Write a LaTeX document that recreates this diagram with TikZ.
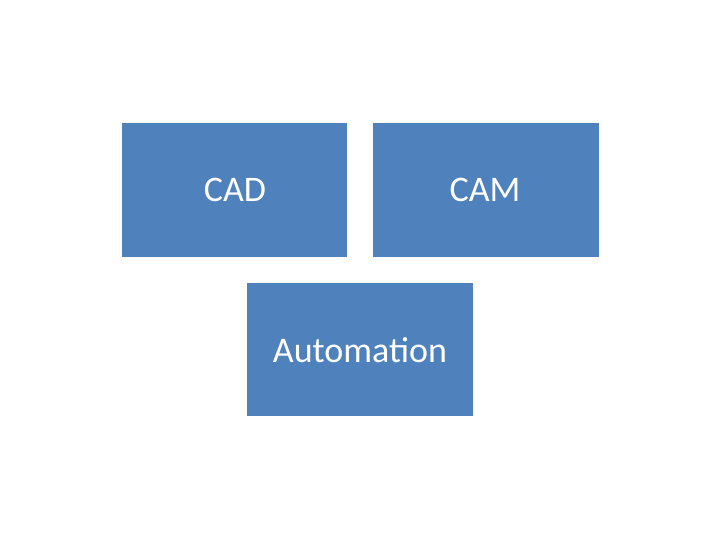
\documentclass[tikz,border=0pt]{standalone}
\usepackage{fontspec}
\setmainfont{Carlito}
\definecolor{boxblue}{HTML}{4F81BD}
\begin{document}
\begin{tikzpicture}[x=1pt,y=-1pt,
  blk/.style={fill=boxblue,draw=none,text=white,font=\fontsize{36}{40}\selectfont}]
\useasboundingbox (0,0) rectangle (720,540);
\fill[boxblue] (122,123) rectangle (347,257);
\fill[boxblue] (373,123) rectangle (599,257);
\fill[boxblue] (247,283) rectangle (473,416);
\node[blk,fill=none] (cad) at (235,190) {CAD};
\node[blk,fill=none] (cam) at (485,190) {CAM};
\node[blk,fill=none] (aut) at (360,350) {Automation};
\end{tikzpicture}
\end{document}
